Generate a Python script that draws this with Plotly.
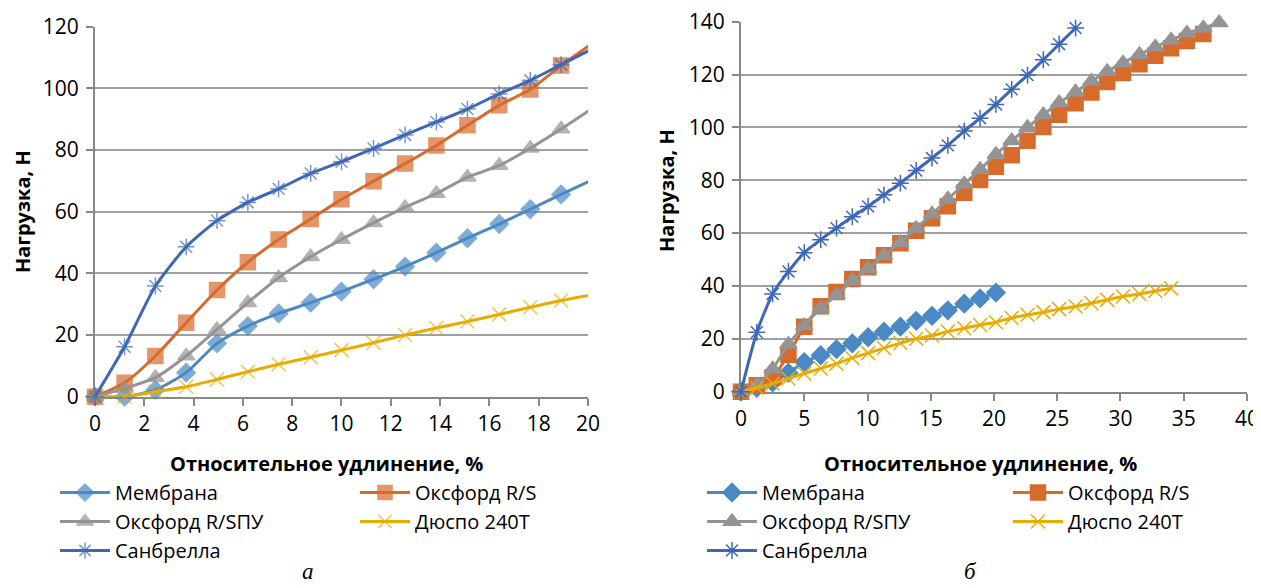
import plotly.graph_objects as go

# ---------------- data ----------------
names = ["Мембрана", "Оксфорд R/S", "Оксфорд R/SПУ", "Дюспо 240T", "Санбрелла"]

# chart "а"
x_a = [0, 1.2, 2.45, 3.7, 4.95, 6.2, 7.45, 8.75, 10.0, 11.3, 12.58, 13.85, 15.11, 16.4, 17.66, 18.91, 20.17]
membrana_a = [0, 0, 2.2, 7.8, 17.3, 22.9, 27.0, 30.5, 34.1, 38.1, 42.2, 46.7, 51.4, 56.0, 60.8, 65.6, 70.3]
oxford_rs_a = [0, 4.5, 13.2, 24.0, 34.6, 43.6, 51.0, 57.6, 64.0, 69.9, 75.6, 81.5, 88.0, 94.5, 99.6, 107.4, 114.6]
oxford_spu_a = [0, 2.7, 6.2, 13.2, 21.8, 30.5, 38.6, 45.4, 51.0, 56.4, 61.4, 65.9, 71.2, 75.0, 80.6, 86.8, 93.5]
duspo_a = [0, 0, 1.6, 3.2, 5.6, 8.1, 10.5, 12.8, 15.1, 17.5, 20.0, 22.3, 24.4, 26.7, 29.0, 31.2, 33.1]
sanbrella_a = [0, 16.2, 35.9, 48.6, 57.1, 63.0, 67.4, 72.4, 76.2, 80.5, 84.9, 89.1, 93.3, 98.2, 102.6, 107.7, 112.8]

# chart "б"
x_b = [0, 1.25, 2.5, 3.75, 5.0, 6.3, 7.55, 8.8, 10.05, 11.3, 12.6, 13.85, 15.1, 16.35, 17.65, 18.9,
       20.15, 21.4, 22.65, 23.9, 25.15, 26.45, 27.7, 28.95, 30.2, 31.5, 32.75, 34.0, 35.25, 36.55, 37.8]
membrana_b = [0, 1.5, 3.5, 7.2, 11.2, 13.8, 16.1, 18.3, 20.6, 22.7, 24.6, 26.8, 28.7, 30.8, 33.3, 35.3, 37.5]
oxford_rs_b = [0, 2.4, 5.5, 14.0, 24.6, 32.3, 37.7, 42.6, 47.1, 51.6, 56.2, 60.9, 65.6, 70.2, 75.3, 80.1,
               85.1, 89.5, 95.0, 100.2, 104.8, 109.1, 113.2, 117.2, 120.6, 123.9, 127.1, 130.0, 132.7, 135.3]
oxford_spu_b = [0, 2.5, 8.6, 18.0, 25.0, 31.5, 36.5, 42.0, 46.5, 51.5, 56.5, 61.8, 67.2, 72.9, 78.6, 84.1,
                89.8, 95.0, 100.0, 104.8, 109.3, 113.4, 117.5, 121.2, 124.4, 127.6, 130.4, 133.1, 135.6, 137.6, 139.6]
duspo_b = [0, 1.5, 3.1, 5.0, 6.9, 8.75, 10.6, 12.75, 14.6, 16.5, 18.4, 20.0, 21.25, 22.75, 24.0, 25.25,
           26.3, 27.9, 29.1, 30.1, 31.25, 32.25, 33.5, 34.75, 36.0, 37.0, 38.1, 39.1]
sanbrella_b = [0, 22.5, 37.0, 45.5, 52.6, 57.5, 61.9, 66.2, 70.1, 74.5, 78.9, 83.7, 88.4, 93.2, 98.6,
               103.5, 108.7, 114.4, 119.8, 125.6, 131.5, 137.6]

x_title = "Относительное удлинение, %"
y_title = "Нагрузка, Н"

# ---------------- styles ----------------
colors = ["#4A89C4", "#D76B2C", "#949494", "#E8AC00", "#3E68B5"]
symbols = ["diamond", "square", "triangle-up", "x-thin-open", "asterisk-open"]
msizes = [14, 15, 15, 14, 14]
FONT = "Open Sans"

# the page body has an 8px margin: figure is sized so that it fills the window exactly
OFF = 8
W, H = 1261 - OFF, 588 - OFF
def px(x):
    return (x - OFF) / W
def py(y):
    return 1 - (y - OFF) / H

EPS = 1e-3  # keep the end ticks inside the range

fig = go.Figure()

series_a = [membrana_a, oxford_rs_a, oxford_spu_a, duspo_a, sanbrella_a]
series_b = [membrana_b, oxford_rs_b, oxford_spu_b, duspo_b, sanbrella_b]
legend_a = ["legend", "legend2", "legend", "legend2", "legend"]
legend_b = ["legend3", "legend4", "legend3", "legend4", "legend3"]

for i, ys in enumerate(series_a):
    n = len(ys)
    sizes = [msizes[i]] * (n - 1) + [0]   # last point lies beyond the axis end
    fig.add_trace(go.Scatter(
        x=x_a[:n], y=ys, name=names[i], mode="lines+markers",
        line=dict(color=colors[i], width=3, shape="spline", smoothing=0.6),
        marker=dict(symbol=symbols[i], size=sizes, color=colors[i],
                    line=dict(color=colors[i], width=1.5)),
        cliponaxis=False, xaxis="x", yaxis="y", legend=legend_a[i]))

for i, ys in enumerate(series_b):
    n = len(ys)
    fig.add_trace(go.Scatter(
        x=x_b[:n], y=ys, name=names[i], mode="lines+markers",
        line=dict(color=colors[i], width=3, shape="spline", smoothing=0.6),
        marker=dict(symbol=symbols[i], size=msizes[i], color=colors[i],
                    line=dict(color=colors[i], width=1.5)),
        cliponaxis=False, xaxis="x2", yaxis="y2", legend=legend_b[i]))

axis_common = dict(
    showline=True, linecolor="#888888", linewidth=2,
    ticks="outside", ticklen=7, tickcolor="#888888", tickwidth=1.5,
    tickfont=dict(family=FONT, size=21, color="#000000"),
    ticklabeloverflow="allow",
    zeroline=False, layer="below traces", automargin=False,
)

fig.update_layout(
    template="none",
    width=W, height=H,
    margin=dict(l=0, r=0, t=0, b=0, pad=0),
    paper_bgcolor="white", plot_bgcolor="white",
    font=dict(family=FONT, color="#000000"),
    xaxis=dict(domain=[px(95), px(588)], range=[0, 20 + EPS], dtick=2, tick0=0,
               anchor="y", showgrid=False, **axis_common),
    yaxis=dict(domain=[py(396.7), py(26.7)], range=[0, 120 + EPS], dtick=20, tick0=0,
               anchor="x", showgrid=True, gridcolor="#A0A0A0", gridwidth=1.5,
               ticklabelstandoff=3, **axis_common),
    xaxis2=dict(domain=[px(741), px(1247)], range=[0, 40 + EPS], dtick=5, tick0=0,
                anchor="y2", showgrid=False, **axis_common),
    yaxis2=dict(domain=[py(391.7), py(21.7)], range=[0, 140 + EPS], dtick=20, tick0=0,
                anchor="x2", showgrid=True, gridcolor="#A0A0A0", gridwidth=1.5,
                ticklabelstandoff=3, **axis_common),
    showlegend=True,
)

leg_common = dict(orientation="v", xanchor="left", yanchor="top",
                  font=dict(family=FONT, size=20, color="#000000"),
                  bgcolor="rgba(0,0,0,0)", borderwidth=0, tracegroupgap=0, itemwidth=50,
                  itemclick=False, itemdoubleclick=False)
fig.update_layout(
    legend=dict(x=px(55), y=py(473), **leg_common),
    legend2=dict(x=px(355), y=py(473), **leg_common),
    legend3=dict(x=px(702), y=py(473), **leg_common),
    legend4=dict(x=px(1008), y=py(473), **leg_common),
)

ann = []
for cx in (326, 980):
    ann.append(dict(x=px(cx), y=py(463), xref="paper", yref="paper", text="<b>%s</b>" % x_title,
                    showarrow=False, font=dict(family=FONT, size=20, color="#000"),
                    xanchor="center", yanchor="middle"))
for cx, cy in ((22, 212), (666, 191)):
    ann.append(dict(x=px(cx), y=py(cy), xref="paper", yref="paper", text="<b>%s</b>" % y_title,
                    showarrow=False, textangle=-90, font=dict(family=FONT, size=20, color="#000"),
                    xanchor="center", yanchor="middle"))
for cx, t in ((308, "а"), (970, "б")):
    ann.append(dict(x=px(cx), y=py(571), xref="paper", yref="paper", text="<i>%s</i>" % t,
                    showarrow=False, font=dict(family="Liberation Serif", size=23, color="#000"),
                    xanchor="center", yanchor="middle"))
fig.update_layout(annotations=ann)

fig.write_html("out.html")
